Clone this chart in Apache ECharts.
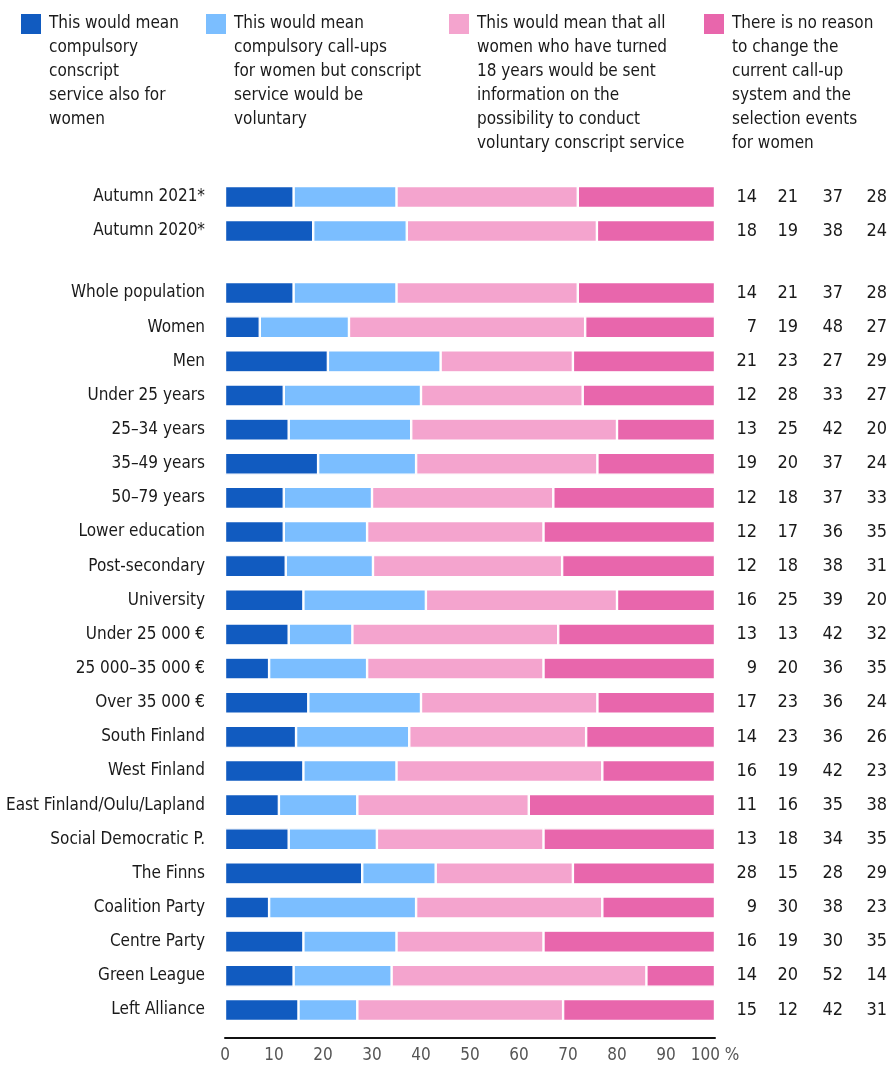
<!DOCTYPE html>
<html><head><meta charset="utf-8">
<script src="https://cdn.jsdelivr.net/npm/echarts@6/dist/echarts.min.js"></script>
<style>html,body{margin:0;padding:0;background:#fff}#c{width:890px;height:1067px}</style>
</head><body><div id="c"></div>
<script>
const seriesNames = [
  'This would mean\ncompulsory\nconscript\nservice also for\nwomen',
  'This would mean\ncompulsory call-ups\nfor women but conscript\nservice would be\nvoluntary',
  'This would mean that all\nwomen who have turned\n18 years would be sent\ninformation on the\npossibility to conduct\nvoluntary conscript service',
  'There is no reason\nto change the\ncurrent call-up\nsystem and the\nselection events\nfor women'
];
const colors = ['#115BC0', '#7BBEFF', '#F4A4CE', '#E866AC'];

const categoriesTop = ['Autumn 2021*', 'Autumn 2020*'];
const topCompulsory = [14, 18];
const topCallups = [21, 19.1];
const topInfo = [37, 38.8];
const topNoChange = [28, 24.1];
const topLabels = [[14,21,37,28],[18,19,38,24]];

const categoriesMain = ['Whole population','Women','Men','Under 25 years','25–34 years','35–49 years','50–79 years','Lower education','Post-secondary','University','Under 25 000 €','25 000–35 000 €','Over 35 000 €','South Finland','West Finland','East Finland/Oulu/Lapland','Social Democratic P.','The Finns','Coalition Party','Centre Party','Green League','Left Alliance'];
const mainCompulsory = [14,7.1,21,12,13,19,12,12,12.4,16,13,9,17,14.5,16,11,13,28,9,16,14,15];
const mainCallups = [21,18.2,23,28,25,20,18,17,17.8,25,13,20,23,23.1,19,16,18,15,30,19,20,12];
const mainInfo = [37,48.2,27,33,42,37,37,36,38.6,39,42,36,36,36.1,42,35,34,28,38,30,52,42];
const mainNoChange = [28,26.5,29,27,20,24,33,35,31.2,20,32,35,24,26.3,23,38,35,29,23,35,14,31];
const mainLabels = [[14,21,37,28],[7,19,48,27],[21,23,27,29],[12,28,33,27],[13,25,42,20],[19,20,37,24],[12,18,37,33],[12,17,36,35],[12,18,38,31],[16,25,39,20],[13,13,42,32],[9,20,36,35],[17,23,36,24],[14,23,36,26],[16,19,42,23],[11,16,35,38],[13,18,34,35],[28,15,28,29],[9,30,38,23],[16,19,30,35],[14,20,52,14],[15,12,42,31]];
const xTicks = [0,10,20,30,40,50,60,70,80,90,100];

const FONT = '"Liberation Sans Narrow", "DejaVu Sans Condensed", "Noto Sans", sans-serif';
const TXT = '#1a1a1a';

const rich = {
  a: {width: 42, align: 'right', fontSize: 18, fontFamily: FONT, color: TXT},
  b: {width: 41, align: 'right', fontSize: 18, fontFamily: FONT, color: TXT},
  c: {width: 45, align: 'right', fontSize: 18, fontFamily: FONT, color: TXT},
  d: {width: 44, align: 'right', fontSize: 18, fontFamily: FONT, color: TXT}
};
function rightFmt(labels) {
  return function (v, i) {
    const r = labels[i];
    return '{a|' + r[0] + '}{b|' + r[1] + '}{c|' + r[2] + '}{d|' + r[3] + '}';
  };
}

const lineCounts = seriesNames.map(n => n.split('\n').length);
const legendLefts = [21, 206, 449, 704];
const legends = seriesNames.map((n, i) => {
  const H = lineCounts[i] * 24;
  return {
    left: legendLefts[i], top: 12, orient: 'vertical', selectedMode: false, padding: 0,
    data: [n], itemWidth: 26, itemHeight: H,
    icon: 'path://M0,0L0,0M0,2L20,2L20,22L0,22ZM26,' + H + 'L26,' + H,
    itemStyle: {borderWidth: 0},
    textStyle: {fontSize: 17, lineHeight: 24, fontFamily: FONT, color: TXT, padding: [0,0,0,-3]}
  };
});

function bars(gi, arrs) {
  return arrs.map((d, i) => ({
    type: 'bar', name: seriesNames[i], stack: 's' + gi, xAxisIndex: gi, yAxisIndex: gi * 2,
    data: d, barWidth: 22, color: colors[i],
    itemStyle: {color: colors[i], borderColor: '#fff', borderWidth: 1.2},
    emphasis: {disabled: true}, animation: false
  }));
}

function yAxes(gi, cats, labels) {
  return [
    {type: 'category', gridIndex: gi, data: cats, inverse: true,
     axisLine: {show: false}, axisTick: {show: false},
     axisLabel: {margin: 20, fontSize: 17, fontFamily: FONT, color: TXT}},
    {type: 'category', gridIndex: gi, data: cats, inverse: true, position: 'right',
     axisLine: {show: false}, axisTick: {show: false},
     axisLabel: {margin: 0, formatter: rightFmt(labels), rich: rich}}
  ];
}

const chart = echarts.init(document.getElementById('c'), null, {renderer: 'canvas'});
chart.setOption({
  animation: false,
  legend: legends,
  grid: [
    {left: 225, right: 175, top: 180, height: 68, containLabel: false, outerBoundsMode: 'none'},
    {left: 225, right: 175, top: 276, height: 751, containLabel: false, outerBoundsMode: 'none'}
  ],
  xAxis: [
    {type: 'value', gridIndex: 0, min: 0, max: 100, interval: 10, show: false},
    {type: 'value', gridIndex: 1, min: xTicks[0], max: xTicks[xTicks.length - 1], interval: 10, offset: 11,
     axisLine: {show: true, lineStyle: {color: '#111', width: 2}},
     axisTick: {show: false}, splitLine: {show: false},
     axisLabel: {margin: 9, fontSize: 17, fontFamily: FONT, color: '#555',
       formatter: v => v === 100 ? '100 %' : String(v)}}
  ],
  yAxis: [].concat(yAxes(0, categoriesTop, topLabels), yAxes(1, categoriesMain, mainLabels)),
  series: [].concat(
    bars(0, [topCompulsory, topCallups, topInfo, topNoChange]),
    bars(1, [mainCompulsory, mainCallups, mainInfo, mainNoChange])
  )
});
</script></body></html>
